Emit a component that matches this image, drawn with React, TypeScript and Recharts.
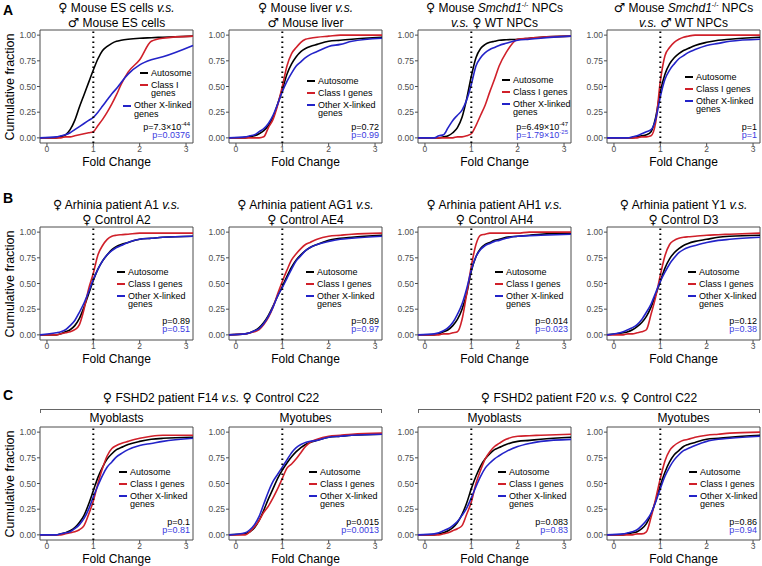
import React from "react";
import {
  Line,
  LineChart,
  ReferenceArea,
  ReferenceLine,
  XAxis,
  YAxis,
} from "recharts";

const FONT = '"Liberation Sans", Arial, Helvetica, sans-serif';
const BLACK = "#000000";
const RED = "#d0202a";
const BLUE = "#2323c8";
const BLUE_TEXT = "#3a3ae0";
const GRAY = "#4d4d4d";

// fold change grid the curves are read at
const XS = [-0.15, 0.2, 0.3, 0.4, 0.5, 0.6, 0.7, 0.8, 0.9, 1.0, 1.1, 1.2, 1.3, 1.4, 1.5, 1.6, 1.75, 2.0, 2.25, 2.5, 3.15];
const X_TICKS = [0, 1, 2, 3];
const Y_TICKS = [0, 0.25, 0.5, 0.75, 1];

// row A
const A1_AUTO = [0, 0, 0.01, 0.03, 0.08, 0.17, 0.3, 0.42, 0.54, 0.66, 0.77, 0.85, 0.89, 0.92, 0.94, 0.95, 0.96, 0.97, 0.975, 0.98, 0.99];
const A1_CLASS = [0, 0, 0, 0.01, 0.01, 0.02, 0.03, 0.04, 0.05, 0.06, 0.12, 0.18, 0.25, 0.33, 0.42, 0.52, 0.64, 0.76, 0.94, 0.97, 0.99];
const A1_OTHER = [0, 0.01, 0.02, 0.03, 0.05, 0.08, 0.11, 0.14, 0.17, 0.2, 0.25, 0.31, 0.37, 0.43, 0.48, 0.54, 0.62, 0.71, 0.76, 0.79, 0.9];

const A2_AUTO = [0, 0, 0.01, 0.02, 0.04, 0.07, 0.12, 0.2, 0.33, 0.47, 0.62, 0.72, 0.79, 0.84, 0.87, 0.89, 0.91, 0.94, 0.95, 0.96, 0.98];
const A2_CLASS = [0, 0, 0, 0, 0, 0.01, 0.1, 0.18, 0.32, 0.5, 0.7, 0.82, 0.88, 0.93, 0.96, 0.97, 0.98, 0.99, 1, 1, 1];
const A2_OTHER = [0, 0.01, 0.02, 0.03, 0.06, 0.09, 0.14, 0.22, 0.33, 0.45, 0.55, 0.63, 0.7, 0.74, 0.78, 0.81, 0.84, 0.89, 0.91, 0.94, 0.97];

const A3_AUTO = [0, 0, 0, 0.01, 0.02, 0.05, 0.1, 0.2, 0.38, 0.6, 0.78, 0.87, 0.91, 0.93, 0.94, 0.95, 0.955, 0.96, 0.97, 0.98, 0.99];
const A3_CLASS = [0, 0, 0, 0, 0, 0, 0.01, 0.01, 0.02, 0.04, 0.12, 0.22, 0.32, 0.45, 0.57, 0.7, 0.83, 0.96, 0.97, 0.98, 0.99];
const A3_OTHER = [0, 0, 0.02, 0.03, 0.1, 0.17, 0.22, 0.27, 0.37, 0.52, 0.7, 0.78, 0.83, 0.86, 0.88, 0.9, 0.92, 0.95, 0.96, 0.97, 0.99];

const A4_AUTO = [0, 0, 0, 0, 0.01, 0.02, 0.03, 0.06, 0.2, 0.45, 0.62, 0.72, 0.78, 0.82, 0.85, 0.87, 0.9, 0.93, 0.95, 0.96, 0.98];
const A4_CLASS = [0, 0, 0, 0, 0, 0.01, 0.01, 0.02, 0.15, 0.55, 0.8, 0.88, 0.93, 0.96, 0.98, 0.99, 1, 1, 1, 1, 1];
const A4_OTHER = [0, 0, 0, 0.01, 0.02, 0.04, 0.06, 0.08, 0.18, 0.4, 0.57, 0.66, 0.72, 0.77, 0.8, 0.83, 0.86, 0.9, 0.92, 0.94, 0.96];

// row B
const B1_AUTO = [0, 0, 0.01, 0.03, 0.05, 0.09, 0.16, 0.27, 0.4, 0.53, 0.64, 0.72, 0.78, 0.83, 0.86, 0.88, 0.9, 0.93, 0.94, 0.95, 0.96];
const B1_CLASS = [0, 0, 0.01, 0.02, 0.03, 0.05, 0.1, 0.25, 0.45, 0.6, 0.78, 0.87, 0.93, 0.96, 0.97, 0.975, 0.98, 0.99, 0.99, 0.99, 0.99];
const B1_OTHER = [0, 0.02, 0.03, 0.05, 0.09, 0.14, 0.22, 0.31, 0.42, 0.54, 0.64, 0.72, 0.78, 0.82, 0.85, 0.87, 0.9, 0.93, 0.94, 0.95, 0.96];

const B2_AUTO = [0, 0.01, 0.02, 0.04, 0.07, 0.12, 0.19, 0.28, 0.38, 0.47, 0.57, 0.66, 0.73, 0.78, 0.82, 0.85, 0.88, 0.92, 0.94, 0.95, 0.97];
const B2_CLASS = [0, 0.01, 0.02, 0.03, 0.05, 0.1, 0.17, 0.27, 0.4, 0.52, 0.63, 0.73, 0.79, 0.84, 0.88, 0.9, 0.93, 0.96, 0.97, 0.98, 0.99];
const B2_OTHER = [0, 0.01, 0.02, 0.04, 0.06, 0.11, 0.18, 0.27, 0.38, 0.46, 0.55, 0.64, 0.72, 0.77, 0.82, 0.85, 0.88, 0.91, 0.93, 0.94, 0.96];

const B3_AUTO = [0, 0, 0.01, 0.03, 0.05, 0.09, 0.15, 0.25, 0.4, 0.62, 0.76, 0.84, 0.88, 0.9, 0.92, 0.93, 0.95, 0.96, 0.97, 0.98, 0.99];
const B3_CLASS = [0, 0, 0, 0.01, 0.01, 0.02, 0.03, 0.15, 0.4, 0.67, 0.88, 0.97, 0.98, 0.99, 0.99, 0.99, 0.99, 0.99, 1, 1, 1];
const B3_OTHER = [0, 0.01, 0.02, 0.04, 0.07, 0.12, 0.2, 0.3, 0.45, 0.63, 0.76, 0.83, 0.87, 0.89, 0.91, 0.92, 0.94, 0.96, 0.965, 0.97, 0.98];

const B4_AUTO = [0, 0.02, 0.03, 0.05, 0.08, 0.12, 0.18, 0.27, 0.39, 0.52, 0.65, 0.74, 0.8, 0.84, 0.87, 0.89, 0.91, 0.93, 0.95, 0.96, 0.97];
const B4_CLASS = [0, 0, 0.01, 0.01, 0.02, 0.03, 0.05, 0.2, 0.37, 0.58, 0.77, 0.88, 0.92, 0.94, 0.95, 0.955, 0.96, 0.97, 0.975, 0.98, 0.99];
const B4_OTHER = [0, 0.03, 0.05, 0.07, 0.1, 0.15, 0.22, 0.3, 0.41, 0.52, 0.61, 0.69, 0.75, 0.8, 0.83, 0.85, 0.87, 0.9, 0.92, 0.93, 0.95];

// row C
const C1_AUTO = [0, 0, 0.01, 0.02, 0.04, 0.07, 0.12, 0.19, 0.3, 0.43, 0.56, 0.66, 0.74, 0.79, 0.83, 0.85, 0.88, 0.91, 0.93, 0.94, 0.95];
const C1_CLASS = [0, 0, 0, 0.01, 0.02, 0.03, 0.05, 0.09, 0.2, 0.33, 0.5, 0.65, 0.77, 0.84, 0.87, 0.89, 0.91, 0.94, 0.96, 0.97, 0.97];
const C1_OTHER = [0, 0, 0.01, 0.02, 0.03, 0.06, 0.1, 0.16, 0.25, 0.37, 0.48, 0.58, 0.66, 0.71, 0.76, 0.79, 0.83, 0.87, 0.89, 0.91, 0.94];

const C2_AUTO = [0, 0.01, 0.03, 0.07, 0.14, 0.24, 0.35, 0.45, 0.55, 0.63, 0.7, 0.76, 0.81, 0.85, 0.88, 0.9, 0.92, 0.95, 0.96, 0.97, 0.98];
const C2_CLASS = [0, 0, 0.03, 0.08, 0.14, 0.22, 0.28, 0.36, 0.45, 0.55, 0.65, 0.69, 0.74, 0.8, 0.86, 0.9, 0.93, 0.96, 0.97, 0.98, 0.99];
const C2_OTHER = [0, 0.02, 0.05, 0.1, 0.18, 0.3, 0.42, 0.52, 0.59, 0.66, 0.73, 0.8, 0.85, 0.88, 0.9, 0.91, 0.92, 0.95, 0.96, 0.97, 0.98];

const C3_AUTO = [0, 0, 0.01, 0.02, 0.04, 0.07, 0.12, 0.2, 0.31, 0.45, 0.57, 0.67, 0.74, 0.79, 0.83, 0.85, 0.88, 0.91, 0.92, 0.93, 0.95];
const C3_CLASS = [0, 0, 0, 0.01, 0.02, 0.04, 0.06, 0.09, 0.2, 0.32, 0.5, 0.63, 0.74, 0.81, 0.86, 0.89, 0.93, 0.96, 0.965, 0.97, 0.98];
const C3_OTHER = [0, 0.01, 0.02, 0.04, 0.06, 0.09, 0.13, 0.19, 0.26, 0.36, 0.47, 0.57, 0.65, 0.7, 0.74, 0.77, 0.81, 0.86, 0.89, 0.91, 0.93];

const C4_AUTO = [0, 0, 0.01, 0.02, 0.03, 0.06, 0.11, 0.2, 0.33, 0.48, 0.61, 0.71, 0.78, 0.82, 0.86, 0.88, 0.9, 0.93, 0.94, 0.95, 0.97];
const C4_CLASS = [0, 0, 0, 0, 0.01, 0.01, 0.03, 0.17, 0.35, 0.55, 0.72, 0.82, 0.87, 0.9, 0.92, 0.93, 0.95, 0.97, 0.98, 0.99, 1];
const C4_OTHER = [0, 0.01, 0.02, 0.03, 0.05, 0.09, 0.14, 0.21, 0.32, 0.45, 0.57, 0.66, 0.73, 0.78, 0.82, 0.84, 0.87, 0.91, 0.93, 0.94, 0.96];

const COL_LEFT = [40, 229, 418, 607];
const ROW_TOP = [30, 227, 427];
const PLOT_W = 153;
const PLOT_H = 113;
const YW = 30;
const XH = 14;

type PValue = { base: string; exp?: string };

type Panel = {
  row: number;
  col: number;
  auto: number[];
  cls: number[];
  other: number[];
  title?: React.ReactNode[];
  legend: [number, number];
  classWrap?: boolean;
  otherDx?: number;
  p: [PValue, PValue];
};

// sex symbols: take them from DejaVu so they come out full size
const F = <span style={{ fontFamily: '"DejaVu Sans"', fontSize: "1.05em" }}>♀</span>;
const M = <span style={{ fontFamily: '"DejaVu Sans"', fontSize: "1.05em" }}>♂</span>;
const VS = <i>v.s.</i>;
const KO = <sup style={{ fontSize: 7, lineHeight: 0 }}>-/-</sup>;

const PANELS: Panel[] = [
  {
    row: 0, col: 0, auto: A1_AUTO, cls: A1_CLASS, other: A1_OTHER,
    title: [<>{F} Mouse ES cells {VS}</>, <>{M} Mouse ES cells</>],
    legend: [100, 43], classWrap: true, otherDx: -17,
    p: [{ base: "p=7.3×10", exp: "-44" }, { base: "p=0.0376" }],
  },
  {
    row: 0, col: 1, auto: A2_AUTO, cls: A2_CLASS, other: A2_OTHER,
    title: [<>{F} Mouse liver {VS}</>, <>{M} Mouse liver</>],
    legend: [78, 51],
    p: [{ base: "p=0.72" }, { base: "p=0.99" }],
  },
  {
    row: 0, col: 2, auto: A3_AUTO, cls: A3_CLASS, other: A3_OTHER,
    title: [<>{F} Mouse <i>Smchd1</i>{KO} NPCs</>, <>{VS} {F} WT NPCs</>],
    legend: [84, 50],
    p: [{ base: "p=6.49×10", exp: "-47" }, { base: "p=1.79×10", exp: "-25" }],
  },
  {
    row: 0, col: 3, auto: A4_AUTO, cls: A4_CLASS, other: A4_OTHER,
    title: [<>{M} Mouse <i>Smchd1</i>{KO} NPCs</>, <>{VS} {M} WT NPCs</>],
    legend: [78, 47],
    p: [{ base: "p=1" }, { base: "p=1" }],
  },
  {
    row: 1, col: 0, auto: B1_AUTO, cls: B1_CLASS, other: B1_OTHER,
    title: [<>{F} Arhinia patient A1 {VS}</>, <>{F} Control A2</>],
    legend: [77, 45],
    p: [{ base: "p=0.89" }, { base: "p=0.51" }],
  },
  {
    row: 1, col: 1, auto: B2_AUTO, cls: B2_CLASS, other: B2_OTHER,
    title: [<>{F} Arhinia patient AG1 {VS}</>, <>{F} Control AE4</>],
    legend: [77, 45],
    p: [{ base: "p=0.89" }, { base: "p=0.97" }],
  },
  {
    row: 1, col: 2, auto: B3_AUTO, cls: B3_CLASS, other: B3_OTHER,
    title: [<>{F} Arhinia patient AH1 {VS}</>, <>{F} Control AH4</>],
    legend: [77, 45],
    p: [{ base: "p=0.014" }, { base: "p=0.023" }],
  },
  {
    row: 1, col: 3, auto: B4_AUTO, cls: B4_CLASS, other: B4_OTHER,
    title: [<>{F} Arhinia patient Y1 {VS}</>, <>{F} Control D3</>],
    legend: [81, 45],
    p: [{ base: "p=0.12" }, { base: "p=0.38" }],
  },
  {
    row: 2, col: 0, auto: C1_AUTO, cls: C1_CLASS, other: C1_OTHER,
    title: [<>Myoblasts</>],
    legend: [79, 45],
    p: [{ base: "p=0.1" }, { base: "p=0.81" }],
  },
  {
    row: 2, col: 1, auto: C2_AUTO, cls: C2_CLASS, other: C2_OTHER,
    title: [<>Myotubes</>],
    legend: [80, 45],
    p: [{ base: "p=0.015" }, { base: "p=0.0013" }],
  },
  {
    row: 2, col: 2, auto: C3_AUTO, cls: C3_CLASS, other: C3_OTHER,
    title: [<>Myoblasts</>],
    legend: [80, 45],
    p: [{ base: "p=0.083" }, { base: "p=0.83" }],
  },
  {
    row: 2, col: 3, auto: C4_AUTO, cls: C4_CLASS, other: C4_OTHER,
    title: [<>Myotubes</>],
    legend: [82, 45],
    p: [{ base: "p=0.86" }, { base: "p=0.94" }],
  },
];

const TITLE_TOP = [0, 196.5, 411];
const P_TOP = [97, 94, 95];

function PText({ v, color }: { v: PValue; color: string }) {
  return (
    <div style={{ color, height: 8.5 }}>
      {v.base}
      {v.exp ? (
        <sup style={{ fontSize: 6, lineHeight: 0, verticalAlign: 4 }}>{v.exp}</sup>
      ) : null}
    </div>
  );
}

function LegendItem({ color, lines, dx = 0 }: { color: string; lines: string[]; dx?: number }) {
  return (
    <div style={{ display: "flex", alignItems: "flex-start", marginBottom: 3.5, marginLeft: dx }}>
      <div style={{ width: 8, height: 2, background: color, marginTop: 3.5, marginRight: 3 }} />
      <div>
        {lines.map((l) => (
          <div key={l} style={{ height: 8.5, whiteSpace: "nowrap" }}>{l}</div>
        ))}
      </div>
    </div>
  );
}

function CdfPanel({ panel }: { panel: Panel }) {
  const left = COL_LEFT[panel.col];
  const top = ROW_TOP[panel.row];
  const rows = XS.map((x, i) => ({
    x,
    auto: panel.auto[i],
    cls: panel.cls[i],
    other: panel.other[i],
  }));
  const tickStyle = { fontSize: 8.5, fill: GRAY, fontFamily: FONT };

  return (
    <>
      <div style={{ position: "absolute", left: left - YW, top: top - 1 }}>
        <LineChart
          width={PLOT_W + YW + 2}
          height={PLOT_H + XH + 1}
          data={rows}
          margin={{ top: 1, right: 2, left: 0, bottom: 0 }}
        >
          <XAxis
            type="number"
            dataKey="x"
            domain={[-0.15, 3.15]}
            ticks={X_TICKS}
            tick={tickStyle}
            tickSize={3}
            tickMargin={0}
            axisLine={false}
            tickLine={{ stroke: GRAY }}
            height={XH}
          />
          <YAxis
            type="number"
            domain={[-0.05, 1.05]}
            ticks={Y_TICKS}
            tickFormatter={(v: number) => v.toFixed(2)}
            tick={tickStyle}
            tickSize={3}
            tickMargin={1}
            axisLine={false}
            tickLine={{ stroke: GRAY }}
            width={YW}
          />
          <Line type="monotone" dataKey="auto" stroke={BLACK} strokeWidth={1.6} dot={false} isAnimationActive={false} />
          <Line type="monotone" dataKey="cls" stroke={RED} strokeWidth={1.6} dot={false} isAnimationActive={false} />
          <Line type="monotone" dataKey="other" stroke={BLUE} strokeWidth={1.6} dot={false} isAnimationActive={false} />
          <ReferenceLine x={1} stroke="#000" strokeWidth={2} strokeDasharray="1.6 3.4" />
          <ReferenceArea x1={-0.15} x2={3.15} y1={-0.05} y2={1.05} fill="none" fillOpacity={0} stroke={GRAY} strokeWidth={1} />
        </LineChart>
      </div>

      {/* x axis title */}
      <div
        style={{
          position: "absolute",
          left: left + PLOT_W / 2 - 50,
          width: 100,
          top: top + PLOT_H + 12,
          textAlign: "center",
          fontSize: 12,
          lineHeight: "14px",
        }}
      >
        Fold Change
      </div>

      {/* panel title */}
      <div
        style={{
          position: "absolute",
          left: left + PLOT_W / 2 - 110,
          width: 220,
          top: TITLE_TOP[panel.row],
          textAlign: "center",
          fontSize: 12,
          lineHeight: "15px",
          whiteSpace: "nowrap",
        }}
      >
        {panel.title?.map((t, i) => (
          <div key={i} style={{ height: 15 }}>{t}</div>
        ))}
      </div>

      {/* legend */}
      <div
        style={{
          position: "absolute",
          left: left + panel.legend[0],
          top: top + panel.legend[1] - 4.25,
          fontSize: 9,
          lineHeight: "8.5px",
          color: "#000",
        }}
      >
        <LegendItem color={BLACK} lines={["Autosome"]} />
        <LegendItem color={RED} lines={panel.classWrap ? ["Class I", "genes"] : ["Class I genes"]} />
        <LegendItem color={BLUE} lines={["Other X-linked", "genes"]} dx={panel.otherDx} />
      </div>

      {/* p values */}
      <div
        style={{
          position: "absolute",
          left,
          width: PLOT_W - 3,
          top: top + P_TOP[panel.row] - 4.25,
          textAlign: "right",
          fontSize: 9,
          lineHeight: "8.5px",
        }}
      >
        <PText v={panel.p[0]} color="#000" />
        <PText v={panel.p[1]} color={BLUE_TEXT} />
      </div>
    </>
  );
}

function Bracket({ c0, c1, label }: { c0: number; c1: number; label: React.ReactNode }) {
  const x0 = COL_LEFT[c0];
  const x1 = COL_LEFT[c1] + PLOT_W;
  return (
    <>
      <div
        style={{
          position: "absolute",
          left: x0,
          width: x1 - x0,
          top: 390,
          textAlign: "center",
          fontSize: 12,
          lineHeight: "15px",
          whiteSpace: "nowrap",
        }}
      >
        {label}
      </div>
      <div
        style={{
          position: "absolute",
          left: x0,
          width: x1 - x0 - 2,
          top: 408.5,
          height: 3,
          borderTop: "1px solid #666",
          borderLeft: "1px solid #666",
          borderRight: "1px solid #666",
        }}
      />
    </>
  );
}

function YTitle({ row }: { row: number }) {
  const cy = ROW_TOP[row] + PLOT_H / 2;
  return (
    <div
      style={{
        position: "absolute",
        left: 10 - 70,
        width: 140,
        top: cy - 8,
        height: 16,
        lineHeight: "16px",
        textAlign: "center",
        fontSize: 12.5,
        transform: "rotate(-90deg)",
        whiteSpace: "nowrap",
      }}
    >
      Cumulative fraction
    </div>
  );
}

export default function App() {
  return (
    <div
      style={{
        position: "absolute",
        left: 0,
        top: 0,
        width: 762,
        height: 566,
        background: "#fff",
        fontFamily: FONT,
        color: "#000",
        overflow: "hidden",
      }}
    >
      {PANELS.map((p) => (
        <CdfPanel key={`${p.row}-${p.col}`} panel={p} />
      ))}
      <Bracket c0={0} c1={1} label={<>{F} FSHD2 patient F14 {VS} {F} Control C22</>} />
      <Bracket c0={2} c1={3} label={<>{F} FSHD2 patient F20 {VS} {F} Control C22</>} />
      <YTitle row={0} />
      <YTitle row={1} />
      <YTitle row={2} />
      {[
        { t: "A", y: 3 },
        { t: "B", y: 191 },
        { t: "C", y: 388 },
      ].map((l) => (
        <div key={l.t} style={{ position: "absolute", left: 3, top: l.y, fontSize: 14, fontWeight: "bold", lineHeight: "15px" }}>
          {l.t}
        </div>
      ))}
    </div>
  );
}
